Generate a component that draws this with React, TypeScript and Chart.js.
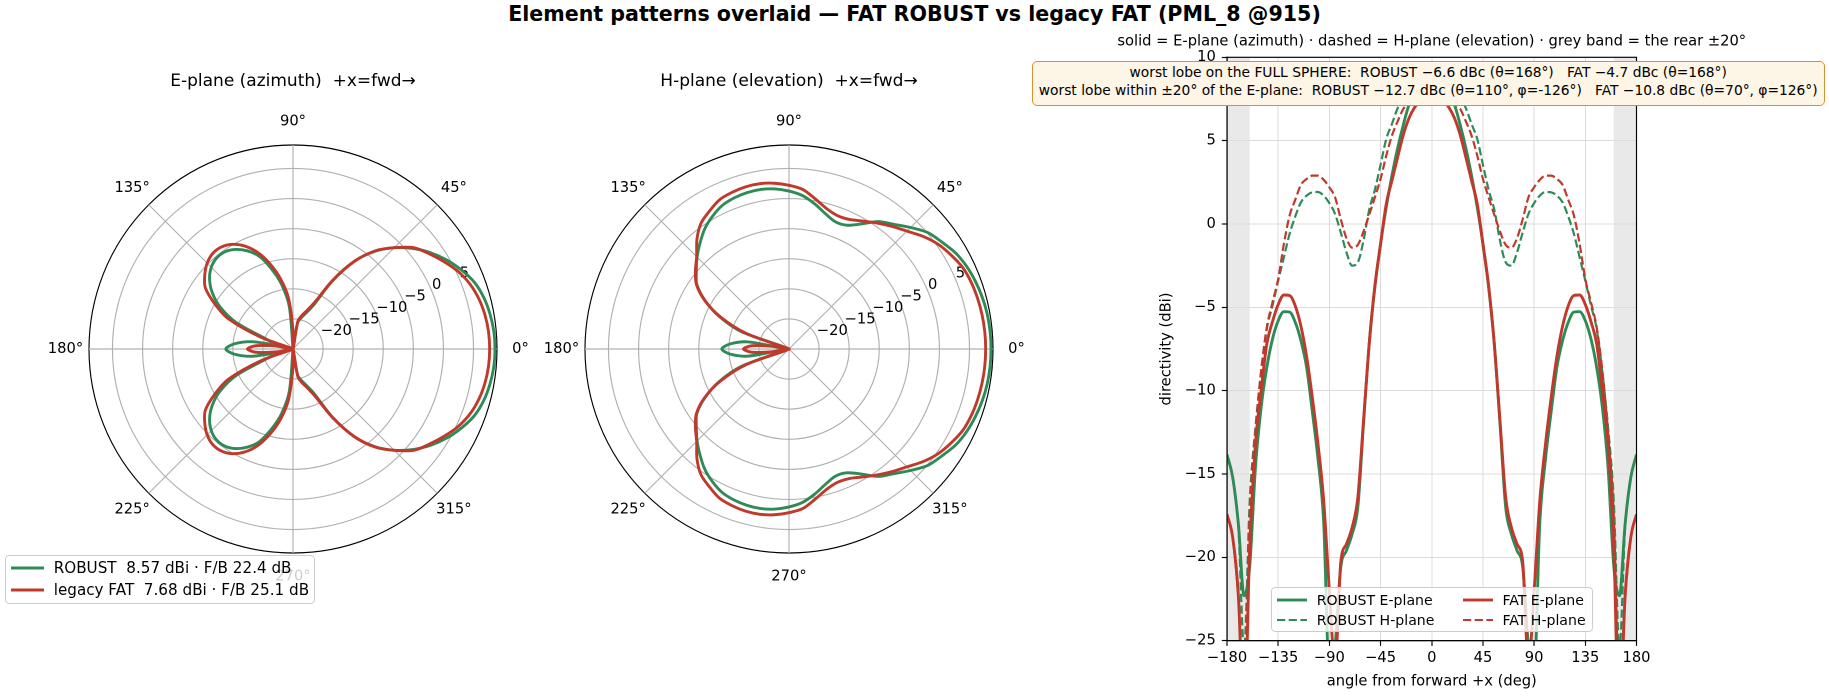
import React, { useEffect, useRef } from 'react';
import { Chart, registerables } from 'chart.js';

Chart.register(...registerables);

// ---------------- data ----------------
const ANGLES = [
  -180, -175, -170, -165, -160, -155, -150, -145, -140, -135, -130, -125, -120, -115, -110, -105, -100, -95,
  -90, -85, -80, -75, -70, -65, -60, -55, -50, -45, -40, -35, -30, -25, -20, -15, -10, -5,
  0, 5, 10, 15, 20, 25, 30, 35, 40, 45, 50, 55, 60, 65, 70, 75, 80, 85,
  90, 95, 100, 105, 110, 115, 120, 125, 130, 135, 140, 145, 150, 155, 160, 165, 170, 175, 180,
];

const ROBUST_E = [
  -13.83, -15.2, -18.0, -22.3, -20.5, -14.6, -11.0, -8.6, -6.9, -5.8, -5.26, -5.28, -5.9, -7.0, -8.6, -11.25, -14.1, -17.9,
  -27.0, -25.3, -20.6, -19.6, -18.6, -17.0, -12.0, -7.2, -3.8, -1.2, 1.0, 2.9, 4.55, 5.95, 7.15, 7.85, 8.25, 8.5,
  8.57, 8.5, 8.25, 7.85, 7.15, 5.95, 4.55, 2.9, 1.0, -1.2, -3.8, -7.2, -12.0, -17.0, -18.6, -19.6, -20.6, -25.3,
  -27.0, -17.9, -14.1, -11.25, -8.6, -7.0, -5.9, -5.28, -5.26, -5.8, -6.9, -8.6, -11.0, -14.6, -20.5, -22.3, -18.0, -15.2, -13.83,
];

const FAT_E = [
  -17.42, -18.8, -22.3, -30.0, -19.4, -13.2, -10.0, -7.2, -5.86, -4.83, -4.26, -4.29, -4.91, -6.13, -7.95, -10.4, -13.2, -16.6,
  -22.0, -26.5, -20.3, -19.2, -18.2, -16.4, -11.8, -7.2, -3.7, -1.2, 1.2, 2.6, 4.0, 5.35, 6.35, 7.0, 7.4, 7.62,
  7.68, 7.62, 7.4, 7.0, 6.35, 5.35, 4.0, 2.6, 1.2, -1.2, -3.7, -7.2, -11.8, -16.4, -18.2, -19.2, -20.3, -26.5,
  -22.0, -16.6, -13.2, -10.4, -7.95, -6.13, -4.91, -4.29, -4.26, -4.83, -5.86, -7.2, -10.0, -13.2, -19.4, -30.0, -22.3, -18.8, -17.42,
];

const ROBUST_H = [
  -13.83, -15.2, -18.2, -25.5, -16.6, -12.2, -8.9, -6.3, -4.9, -3.4, -2.0, -0.6, 0.45, 1.3, 1.7, 1.9, 1.92, 1.7,
  1.25, 0.6, -0.5, -1.7, -2.5, -2.3, -1.0, 0.85, 2.05, 3.55, 5.1, 6.0, 6.95, 7.55, 7.95, 8.25, 8.45, 8.54,
  8.57, 8.54, 8.45, 8.25, 7.95, 7.55, 6.95, 6.0, 5.1, 3.55, 2.05, 0.85, -1.0, -2.3, -2.5, -1.7, -0.5, 0.6,
  1.25, 1.7, 1.92, 1.9, 1.7, 1.3, 0.45, -0.6, -2.0, -3.4, -4.9, -6.3, -8.9, -12.2, -16.6, -25.5, -18.2, -15.2, -13.83,
];

const FAT_H = [
  -17.42, -18.8, -22.5, -28.0, -17.5, -12.5, -8.8, -6.2, -4.7, -3.3, -1.2, 0.5, 1.45, 2.35, 2.7, 2.9, 2.9, 2.65,
  2.2, 1.6, 0.3, -0.85, -1.42, -1.25, -0.45, 0.55, 1.6, 2.7, 4.1, 5.3, 6.15, 6.9, 7.25, 7.45, 7.58, 7.66,
  7.68, 7.66, 7.58, 7.45, 7.25, 6.9, 6.15, 5.3, 4.1, 2.7, 1.6, 0.55, -0.45, -1.25, -1.42, -0.85, 0.3, 1.6,
  2.2, 2.65, 2.9, 2.9, 2.7, 2.35, 1.45, 0.5, -1.2, -3.3, -4.7, -6.2, -8.8, -12.5, -17.5, -28.0, -22.5, -18.8, -17.42,
];

const R_MIN = -25;
const R_MAX = 8.9;
const R_GRID = [-25, -20, -15, -10, -5, 0, 5, 8.9];
const R_TICK_LABELS = [-20, -15, -10, -5, 0, 5];
const THETA_TICKS = [0, 45, 90, 135, 180, 225, 270, 315];

const Y_MIN = -25;
const Y_MAX = 10;
const Y_STEP = 5;
const X_MIN = -180;
const X_MAX = 180;
const X_STEP = 45;
const REAR_HALF = 20;

const SUPTITLE = 'Element patterns overlaid \u2014 FAT ROBUST vs legacy FAT (PML_8 @915)';
const E_TITLE = 'E-plane (azimuth)  +x=fwd\u2192';
const H_TITLE = 'H-plane (elevation)  +x=fwd\u2192';
const RECT_TITLE = 'solid = E-plane (azimuth) \u00b7 dashed = H-plane (elevation) \u00b7 grey band = the rear \u00b120\u00b0';
const X_LABEL = 'angle from forward +x (deg)';
const Y_LABEL = 'directivity (dBi)';
const NOTE_LINES = [
  'worst lobe on the FULL SPHERE:  ROBUST \u22126.6 dBc (\u03b8=168\u00b0)   FAT \u22124.7 dBc (\u03b8=168\u00b0)',
  'worst lobe within \u00b120\u00b0 of the E-plane:  ROBUST \u221212.7 dBc (\u03b8=110\u00b0, \u03c6=-126\u00b0)   FAT \u221210.8 dBc (\u03b8=70\u00b0, \u03c6=126\u00b0)',
];
const POLAR_LEGEND = ['ROBUST  8.57 dBi \u00b7 F/B 22.4 dB', 'legacy FAT  7.68 dBi \u00b7 F/B 25.1 dB'];
const RECT_LEGEND = ['ROBUST E-plane', 'ROBUST H-plane', 'FAT E-plane', 'FAT H-plane'];

// ---------------- styling ----------------
const FONT = '"DejaVu Sans", "Liberation Sans", sans-serif';
const GREEN = '#2e8b57';
const RED = '#c0392b';
const PAGE_W = 1829;
const PAGE_H = 696;
const TICK_SIZE = 14.7;
const LW_SOLID = 2.9;
const LW_DASH = 2.2;
const DASH = [8.2, 3.5];

const fmt = (v: number) => (v < 0 ? '\u2212' + Math.abs(v) : String(v));

// radar directions: index i sits at mathematical angle -5*i (clockwise from +x)
const POLAR_DIRS = Array.from({ length: 72 }, (_, i) => (360 - 5 * i) % 360);
const toPolar = (series: number[]) =>
  POLAR_DIRS.map((phi) => {
    const th = phi > 180 ? phi - 360 : phi;
    const k = ANGLES.indexOf(th);
    return Math.max(series[k], R_MIN);
  });

const polarTextPlugin = {
  id: 'polarText',
  beforeDatasetsDraw(chart: any) {
    const s = chart.scales.r;
    const ctx = chart.ctx;
    ctx.save();
    ctx.fillStyle = '#000';
    ctx.font = `${TICK_SIZE}px ${FONT}`;
    ctx.textAlign = 'left';
    ctx.textBaseline = 'bottom';
    const a = (22.5 * Math.PI) / 180;
    for (const v of R_TICK_LABELS) {
      const d = s.getDistanceFromCenterForValue(v);
      ctx.fillText(fmt(v), s.xCenter + d * Math.cos(a), s.yCenter - d * Math.sin(a) + 1);
    }
    ctx.textAlign = 'center';
    ctx.textBaseline = 'middle';
    for (const deg of THETA_TICKS) {
      const t = (deg * Math.PI) / 180;
      const d = s.drawingArea + 23.5;
      ctx.fillText(`${deg}\u00b0`, s.xCenter + d * Math.cos(t), s.yCenter - d * Math.sin(t));
    }
    ctx.restore();
  },
};

const PADX = 50;
const AREA = 408;
const PAD_BOTTOM = 60;
const TITLE_SIZE = 17;
const CANVAS_TOP_OFFSET = 30.6;
const TITLE_BOX = 114;
const TITLE_CENTER_Y = 81.4;
const TITLE_PAD_TOP = TITLE_CENTER_Y - CANVAS_TOP_OFFSET - (TITLE_SIZE * 1.2) / 2;
const TITLE_PAD_BOTTOM = TITLE_BOX - TITLE_PAD_TOP - TITLE_SIZE * 1.2;

function PolarPanel(props: { title: string; robust: number[]; fat: number[]; cx: number }) {
  const ref = useRef<HTMLCanvasElement>(null);
  const W = AREA + 2 * PADX;
  const H = TITLE_BOX + AREA + PAD_BOTTOM;
  const left = props.cx - PADX - AREA / 2;
  const top = CANVAS_TOP_OFFSET;
  useEffect(() => {
    const mk = (label: string, vals: number[], color: string, order: number) =>
      ({
        label,
        data: toPolar(vals),
        borderColor: color,
        backgroundColor: color,
        borderWidth: LW_SOLID,
        pointRadius: 0,
        pointHoverRadius: 0,
        fill: false,
        tension: 0.3,
        borderJoinStyle: 'round',
        order,
      }) as any;
    const chart = new Chart(ref.current as HTMLCanvasElement, {
      type: 'radar',
      data: {
        labels: POLAR_DIRS.map(String),
        datasets: [mk('ROBUST', props.robust, GREEN, 1), mk('legacy FAT', props.fat, RED, 0)],
      },
      options: {
        responsive: false,
        animation: false,
        devicePixelRatio: 2,
        events: [],
        layout: { padding: { left: PADX, right: PADX, top: 0, bottom: PAD_BOTTOM } },
        plugins: {
          legend: { display: false },
          tooltip: { enabled: false },
          title: {
            display: true,
            text: props.title,
            color: '#000',
            font: { family: FONT, size: TITLE_SIZE, weight: 'normal' as any, lineHeight: 1.2 },
            padding: { top: TITLE_PAD_TOP, bottom: TITLE_PAD_BOTTOM },
          },
        },
        scales: {
          r: {
            min: R_MIN,
            max: R_MAX,
            startAngle: 90,
            afterBuildTicks: (s: any) => {
              s.ticks = R_GRID.map((v) => ({ value: v }));
            },
            ticks: { display: false },
            pointLabels: { display: false },
            grid: {
              circular: true,
              color: (c: any) => (c.tick && c.tick.value === R_MAX ? '#000000' : '#b0b0b0'),
              lineWidth: 1.15,
            },
            angleLines: {
              display: true,
              color: (c: any) => (c.index % 9 === 0 ? '#b0b0b0' : 'rgba(0,0,0,0)'),
              lineWidth: 1.15,
            },
          } as any,
        },
      },
      plugins: [polarTextPlugin],
    });
    return () => chart.destroy();
  }, []);
  return (
    <canvas
      ref={ref}
      width={W}
      height={H}
      style={{ position: 'absolute', left, top, width: W, height: H }}
    />
  );
}

// ---------------- rectangular panel ----------------
const RECT_LEFT = 1080;
const RECT_W = PAGE_W - RECT_LEFT;
const AREA_LEFT = 1227;
const AREA_RIGHT = 1636.5;
const AREA_TOP = 57.3;
const AREA_BOTTOM = 640.7;
const RECT_TITLE_Y = 41.7;
const YLABEL_X = 1166.7;

const bandPlugin = {
  id: 'rearBand',
  beforeDraw(chart: any) {
    const { ctx, chartArea: a, scales } = chart;
    const x = scales.x;
    ctx.save();
    ctx.fillStyle = '#e9e9e9';
    const spans = [
      [X_MIN, X_MIN + REAR_HALF],
      [X_MAX - REAR_HALF, X_MAX],
    ];
    for (const [l, r] of spans) {
      const x0 = x.getPixelForValue(l);
      const x1 = x.getPixelForValue(r);
      ctx.fillRect(x0, a.top, x1 - x0, a.bottom - a.top);
    }
    ctx.restore();
  },
};

const frameTitlePlugin = {
  id: 'frameTitle',
  afterDatasetsDraw(chart: any) {
    const { ctx, chartArea: a } = chart;
    ctx.save();
    ctx.strokeStyle = '#000';
    ctx.lineWidth = 1.15;
    ctx.strokeRect(a.left, a.top, a.right - a.left, a.bottom - a.top);
    ctx.fillStyle = '#000';
    ctx.font = `${TICK_SIZE}px ${FONT}`;
    ctx.textAlign = 'center';
    ctx.textBaseline = 'middle';
    ctx.fillText(RECT_TITLE, (a.left + a.right) / 2, RECT_TITLE_Y);
    ctx.restore();
  },
};

function mkLine(label: string, vals: number[], color: string, dashed: boolean, order: number) {
  return {
    label,
    data: ANGLES.map((a, i) => ({ x: a, y: vals[i] })),
    borderColor: color,
    backgroundColor: color,
    borderWidth: dashed ? LW_DASH : LW_SOLID,
    borderDash: dashed ? DASH : [],
    pointRadius: 0,
    pointHoverRadius: 0,
    fill: false,
    cubicInterpolationMode: 'monotone',
    borderJoinStyle: 'round',
    order,
  } as any;
}

function RectPanel() {
  const ref = useRef<HTMLCanvasElement>(null);
  useEffect(() => {
    const tickFont = { family: FONT, size: TICK_SIZE };
    const half = (TICK_SIZE * 1.2) / 2;
    const chart = new Chart(ref.current as HTMLCanvasElement, {
      type: 'line',
      data: {
        datasets: [
          mkLine(RECT_LEGEND[0], ROBUST_E, GREEN, false, 3),
          mkLine(RECT_LEGEND[1], ROBUST_H, GREEN, true, 2),
          mkLine(RECT_LEGEND[2], FAT_E, RED, false, 1),
          mkLine(RECT_LEGEND[3], FAT_H, RED, true, 0),
        ],
      },
      options: {
        responsive: false,
        animation: false,
        devicePixelRatio: 2,
        events: [],
        layout: {
          padding: { left: 0, right: PAGE_W - AREA_RIGHT, top: AREA_TOP, bottom: 0 },
        },
        plugins: {
          legend: { display: false },
          tooltip: { enabled: false },
          title: { display: false },
        },
        scales: {
          x: {
            type: 'linear',
            min: X_MIN,
            max: X_MAX,
            afterFit: (s: any) => {
              s.height = PAGE_H - AREA_BOTTOM;
            },
            ticks: {
              stepSize: X_STEP,
              autoSkip: false,
              maxRotation: 0,
              padding: 3.6,
              color: '#000',
              font: tickFont,
              callback: (v: any) => fmt(Number(v)),
            },
            grid: { color: '#dcdcdc', lineWidth: 1, tickColor: '#000', tickLength: 5.2, tickWidth: 1.15 },
            border: { color: '#000', width: 1.15 },
            title: {
              display: true,
              text: X_LABEL,
              color: '#000',
              font: { family: FONT, size: TICK_SIZE, lineHeight: 1.2 },
              padding: { top: 0, bottom: 14.3 - half },
            },
          } as any,
          y: {
            type: 'linear',
            min: Y_MIN,
            max: Y_MAX,
            afterFit: (s: any) => {
              s.width = AREA_LEFT - RECT_LEFT;
            },
            ticks: {
              stepSize: Y_STEP,
              padding: 6,
              color: '#000',
              font: tickFont,
              callback: (v: any) => fmt(Number(v)),
            },
            grid: { color: '#dcdcdc', lineWidth: 1, tickColor: '#000', tickLength: 5.2, tickWidth: 1.15 },
            border: { color: '#000', width: 1.15 },
            title: {
              display: true,
              text: Y_LABEL,
              color: '#000',
              font: { family: FONT, size: TICK_SIZE, lineHeight: 1.2 },
              padding: { top: YLABEL_X - RECT_LEFT - half, bottom: 0 },
            },
          } as any,
        },
      },
      plugins: [bandPlugin, frameTitlePlugin],
    });
    return () => chart.destroy();
  }, []);
  return (
    <canvas
      ref={ref}
      width={RECT_W}
      height={PAGE_H}
      style={{ position: 'absolute', left: RECT_LEFT, top: 0, width: RECT_W, height: PAGE_H }}
    />
  );
}

// ---------------- legends ----------------
function Swatch(props: { color: string; dashed: boolean; x: number; y: number; len: number }) {
  return (
    <svg
      width={props.len}
      height={8}
      style={{ position: 'absolute', left: props.x, top: props.y - 4, overflow: 'visible' }}
    >
      <line
        x1={0}
        y1={4}
        x2={props.len}
        y2={4}
        stroke={props.color}
        strokeWidth={props.dashed ? LW_DASH : LW_SOLID}
        strokeDasharray={props.dashed ? DASH.join(' ') : undefined}
      />
    </svg>
  );
}

type LegendItem = { text: string; color: string; dashed: boolean; hx: number; tx: number; y: number };

function LegendBox(props: {
  left: number;
  top: number;
  width: number;
  height: number;
  size: number;
  handle: number;
  items: LegendItem[];
}) {
  return (
    <div
      style={{
        position: 'absolute',
        left: props.left,
        top: props.top,
        width: props.width,
        height: props.height,
        boxSizing: 'border-box',
        border: '1px solid #cccccc',
        borderRadius: 4,
        background: 'rgba(255,255,255,0.8)',
      }}
    >
      {props.items.map((it, i) => (
        <React.Fragment key={i}>
          <Swatch color={it.color} dashed={it.dashed} x={it.hx} y={it.y} len={props.handle} />
          <div
            style={{
              position: 'absolute',
              left: it.tx,
              top: it.y - props.size * 0.6,
              height: props.size * 1.2,
              lineHeight: `${props.size * 1.2}px`,
              fontFamily: FONT,
              fontSize: props.size,
              color: '#000',
              whiteSpace: 'pre',
            }}
          >
            {it.text}
          </div>
        </React.Fragment>
      ))}
    </div>
  );
}

export default function App() {
  return (
    <div
      style={{
        position: 'absolute',
        left: 0,
        top: 0,
        width: PAGE_W,
        height: PAGE_H,
        background: '#fff',
        overflow: 'hidden',
      }}
    >
      <div
        style={{
          position: 'absolute',
          left: 0,
          top: 2,
          width: PAGE_W,
          textAlign: 'center',
          fontFamily: FONT,
          fontWeight: 'bold',
          fontSize: 20.6,
          lineHeight: '24px',
          color: '#000',
          whiteSpace: 'pre',
        }}
      >
        {SUPTITLE}
      </div>
      <PolarPanel title={E_TITLE} robust={ROBUST_E} fat={FAT_E} cx={293.3} />
      <PolarPanel title={H_TITLE} robust={ROBUST_H} fat={FAT_H} cx={789.3} />
      <RectPanel />
      <div
        style={{
          position: 'absolute',
          left: 1031.7,
          top: 60.7,
          width: 793,
          height: 45.3,
          boxSizing: 'border-box',
          border: '1.3px solid #d9902f',
          borderRadius: 5,
          background: '#fdf5e6',
          paddingTop: 2.6,
          textAlign: 'center',
          fontFamily: FONT,
          fontSize: 13.8,
          lineHeight: '17.4px',
          color: '#000',
          whiteSpace: 'pre',
        }}
      >
        {NOTE_LINES.map((l, i) => (
          <div key={i}>{l}</div>
        ))}
      </div>
      <LegendBox
        left={4.7}
        top={555}
        width={310.6}
        height={49}
        size={15.2}
        handle={33}
        items={[
          { text: POLAR_LEGEND[0], color: GREEN, dashed: false, hx: 5.3, tx: 48, y: 12.3 },
          { text: POLAR_LEGEND[1], color: RED, dashed: false, hx: 5.3, tx: 48, y: 34 },
        ]}
      />
      <LegendBox
        left={1270.7}
        top={586.7}
        width={322}
        height={45.6}
        size={14.1}
        handle={30}
        items={[
          { text: RECT_LEGEND[0], color: GREEN, dashed: false, hx: 5.3, tx: 45, y: 12.3 },
          { text: RECT_LEGEND[1], color: GREEN, dashed: true, hx: 5.3, tx: 45, y: 32.6 },
          { text: RECT_LEGEND[2], color: RED, dashed: false, hx: 191, tx: 230.7, y: 12.3 },
          { text: RECT_LEGEND[3], color: RED, dashed: true, hx: 191, tx: 230.7, y: 32.6 },
        ]}
      />
    </div>
  );
}
